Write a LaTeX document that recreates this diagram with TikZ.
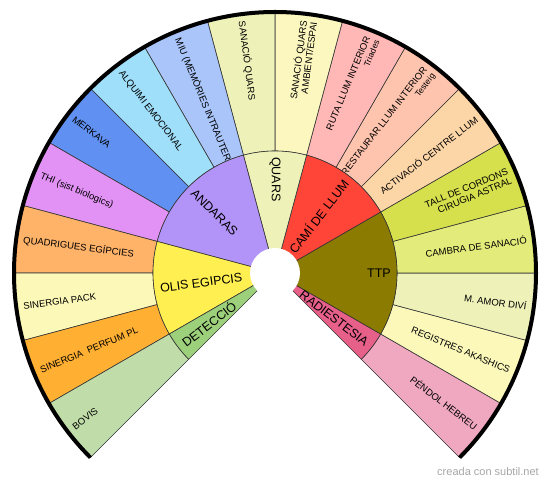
\documentclass[tikz,border=0pt]{standalone}
\usepackage{fontspec}
\setmainfont{Liberation Sans}
\definecolor{cPendol}{HTML}{F0A8C0}
\definecolor{cRegistres}{HTML}{FBF8BA}
\definecolor{cAmor}{HTML}{EEF2B9}
\definecolor{cCambra}{HTML}{E3EB7A}
\definecolor{cTall}{HTML}{D5E04C}
\definecolor{cActiv}{HTML}{FDD6A8}
\definecolor{cRestaurar}{HTML}{FFC4AE}
\definecolor{cRuta}{HTML}{FFB8B6}
\definecolor{cSanAmb}{HTML}{FCF7BE}
\definecolor{cSanQuars}{HTML}{EEF2B8}
\definecolor{cMiu}{HTML}{A9C5FA}
\definecolor{cAlquimi}{HTML}{9FDFFA}
\definecolor{cMerkava}{HTML}{6090F2}
\definecolor{cThi}{HTML}{E292F4}
\definecolor{cQuadri}{HTML}{FFB369}
\definecolor{cSinPack}{HTML}{FCF8B8}
\definecolor{cSinPerf}{HTML}{FFB033}
\definecolor{cBovis}{HTML}{C0DDA9}
\definecolor{cRadi}{HTML}{E6608A}
\definecolor{cTTP}{HTML}{8B7B00}
\definecolor{cCami}{HTML}{FF4538}
\definecolor{cQuars}{HTML}{EEF2B8}
\definecolor{cAndaras}{HTML}{B293F8}
\definecolor{cOlis}{HTML}{FFEF50}
\definecolor{cDetec}{HTML}{9DD07A}
\tikzset{
  seg/.style={draw=black!80, line width=0.6pt},
  outlab/.style={font=\fontsize{9.5}{10}\selectfont, inner sep=0pt, align=right},
  outlabL/.style={font=\fontsize{9.5}{10}\selectfont, inner sep=0pt, align=left},
  inlab/.style={font=\fontsize{12.5}{14}\selectfont, inner sep=0pt},
  rim/.style={draw=black, line width=4pt},
  watermark/.style={font=\fontsize{11}{12}\selectfont, text=black!35, inner sep=0pt}
}
\begin{document}
\begin{tikzpicture}[x=1pt,y=1pt]
\useasboundingbox (0,0) rectangle (550,482);
\begin{scope}[shift={(275,209)}]
% outer ring
\foreach \a/\c in {-45/cPendol,-30/cRegistres,-15/cAmor,0/cCambra,15/cTall,30/cActiv,45/cRestaurar,60/cRuta,75/cSanAmb,90/cSanQuars,105/cMiu,120/cAlquimi,135/cMerkava,150/cThi,165/cQuadri,180/cSinPack,195/cSinPerf,210/cBovis}{
  \pgfmathsetmacro\b{\a+15}
  \filldraw[seg, fill=\c] (\a:122pt) arc[start angle=\a, end angle=\b, radius=122pt]
     -- (\b:261pt) arc[start angle=\b, end angle=\a, radius=261pt] -- cycle;
}
% outer labels, right side
\node[outlab, rotate=-37.5, anchor=east] (lPendol) at (-37.5:254pt) {PÉNDOL HEBREU};
\node[outlab, rotate=-22.5, anchor=east] (lRegistres) at (-22.5:254pt) {REGISTRES AKASHICS};
\node[outlab, rotate=-7.5, anchor=east] (lAmor) at (-7.5:254pt) {M. AMOR DIVÍ};
\node[outlab, rotate=7.5, anchor=east] (lCambra) at (7.5:254pt) {CAMBRA DE SANACIÓ};
\node[outlab, rotate=22.5, anchor=east] (lTall) at (22.5:254pt) {TALL DE CORDONS\\CIRUGIA ASTRAL};
\node[outlab, rotate=37.5, anchor=east] (lActiv) at (37.5:254pt) {ACTIVACIÓ CENTRE LLUM};
\node[outlab, rotate=52.5, anchor=east] (lRestaurar) at (52.5:254pt) {RESTAURAR LLUM INTERIOR\\{\fontsize{8.5}{9}\selectfont Testeig}};
\node[outlab, rotate=67.5, anchor=east] (lRuta) at (67.5:254pt) {RUTA LLUM INTERIOR\\{\fontsize{8.5}{9}\selectfont Triades}};
\node[outlab, rotate=82.5, anchor=east] (lSanAmb) at (82.5:254pt) {SANACIÓ QUARS\\AMBIENT/ESPAI};
% outer labels, left side
\node[outlabL, rotate=-82.5, anchor=west] (lSanQuars) at (97.5:254pt) {SANACIÓ QUARS};
\node[outlabL, rotate=-67.5, anchor=west] (lMiu) at (112.5:254pt) {MIU (MEMÒRIES INTRAUTERI};
\node[outlabL, rotate=-52.5, anchor=west] (lAlquimi) at (127.5:254pt) {ALQUIMI EMOCIONAL};
\node[outlabL, rotate=-37.5, anchor=west] (lMerkava) at (142.5:254pt) {MERKAVA};
\node[outlabL, rotate=-22.5, anchor=west] (lThi) at (157.5:254pt) {THI (sist biologics)};
\node[outlabL, rotate=-7.5, anchor=west] (lQuadri) at (172.5:254pt) {QUADRIGUES EGÍPCIES};
\node[outlabL, rotate=7.5, anchor=west] (lSinPack) at (187.5:254pt) {SINERGIA PACK};
\node[outlabL, rotate=22.5, anchor=west] (lSinPerf) at (202.5:254pt) {SINERGIA\ \ PERFUM PL};
\node[outlabL, rotate=37.5, anchor=west] (lBovis) at (217.5:254pt) {BOVIS};
% inner ring
\foreach \a/\b/\c in {-45/-30/cRadi,-30/30/cTTP,30/75/cCami,75/105/cQuars,105/165/cAndaras,165/210/cOlis,210/225/cDetec}{
  \filldraw[seg, fill=\c] (0,0) -- (\a:122pt) arc[start angle=\a, end angle=\b, radius=122pt] -- cycle;
}
% inner labels
\node[inlab, rotate=-37.5, anchor=east] (lRadi) at (-37.5:116pt) {RADIESTESIA};
\node[inlab, rotate=0, anchor=east] (lTTP) at (0:116pt) {TTP};
\node[inlab, rotate=52.5, anchor=east] (lCami) at (52.5:116pt) {CAMÍ DE LLUM};
\node[inlab, rotate=-90, anchor=west] (lQuars) at (90:116pt) {QUARS};
\node[inlab, rotate=-45, anchor=west] (lAndaras) at (135:116pt) {ANDARAS};
\node[inlab, rotate=7.5, anchor=west] (lOlis) at (187.5:116pt) {OLIS EGIPCIS};
\node[inlab, rotate=37.5, anchor=west] (lDetec) at (217.5:116pt) {DETECCIÓ};
% hole
\fill[white] (0,0) circle[radius=25pt];
% rim
\draw[rim] (-45:261pt) arc[start angle=-45, end angle=225, radius=261pt];
\end{scope}
\node[watermark] (wm) at (488,10) {creada con subtil.net};
\end{tikzpicture}
\end{document}
